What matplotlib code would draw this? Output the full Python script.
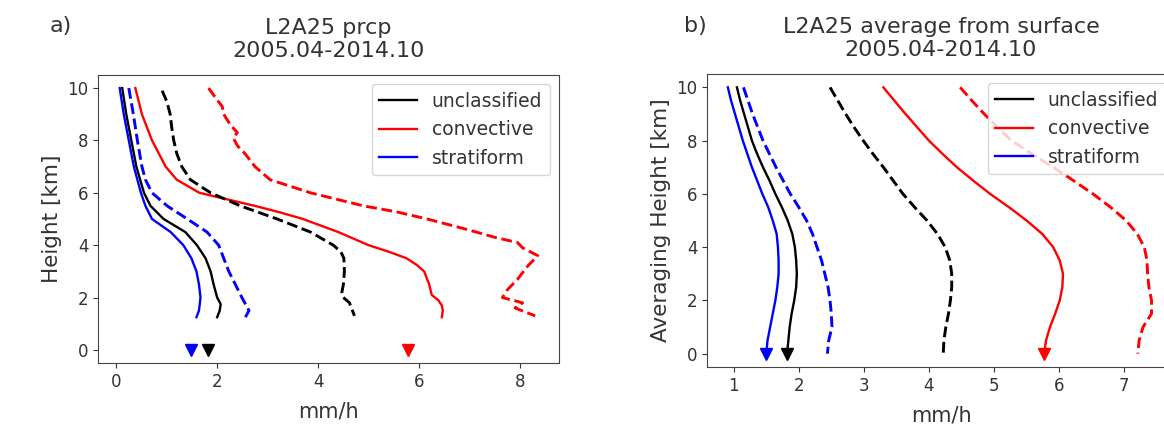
import numpy as np
from matplotlib import pyplot as plt

# ---- panel a: L2A25 precipitation profiles ----
h_strat_a = [10, 9, 8, 7, 6, 5.5, 5, 4.5, 4, 3.5, 3, 2.5, 2, 1.5, 1.25]
strat_a = [0.07, 0.15, 0.25, 0.35, 0.49, 0.58, 0.71, 1.08, 1.33, 1.49, 1.59, 1.64, 1.67, 1.64, 1.59]
h_uncl_a = [10, 9, 8, 7, 6, 5.5, 5, 4.5, 4, 3.5, 3, 2.5, 2, 1.75, 1.5, 1.25]
uncl_a = [0.12, 0.20, 0.30, 0.40, 0.55, 0.68, 0.94, 1.37, 1.60, 1.77, 1.87, 1.93, 2.0, 2.07, 2.05, 2.0]
h_strat_d_a = [10, 9, 8, 7, 6.5, 6, 5.5, 5, 4.5, 4, 3.5, 3, 2.5, 2, 1.5, 1.25]
strat_d_a = [0.25, 0.34, 0.42, 0.51, 0.58, 0.71, 1.01, 1.41, 1.80, 2.03, 2.13, 2.23, 2.36, 2.49, 2.63, 2.56]
h_conv_a = [10, 9, 8, 7, 6.5, 6, 5.75, 5.5, 5.25, 5, 4.75, 4.5, 4.25, 4, 3.75, 3.5,
            3.25, 3, 2.5, 2.1, 1.9, 1.7, 1.5, 1.25]
conv_a = [0.38, 0.51, 0.71, 0.98, 1.2, 1.65, 2.2, 2.75, 3.25, 3.7, 4.05, 4.4, 4.7, 5.0, 5.4, 5.75,
          5.95, 6.1, 6.2, 6.25, 6.38, 6.45, 6.47, 6.45]
h_uncl_d_a = [9.9, 9.5, 9, 8.5, 8, 7.5, 7, 6.5, 6, 5.5, 5, 4.5, 4, 3.75, 3.5, 3, 2.5, 2.2, 2, 1.8, 1.5, 1.3]
uncl_d_a = [0.91, 1.0, 1.07, 1.1, 1.14, 1.2, 1.3, 1.47, 1.87, 2.46, 3.19, 3.85, 4.3, 4.45, 4.51,
            4.52, 4.5, 4.47, 4.5, 4.62, 4.68, 4.72]
h_conv_d_a = [10, 9.6, 9.3, 9.0, 8.6, 8.3, 8.1, 7.8, 7.5, 7, 6.5, 6, 5.5, 5.27, 5, 4.6, 4.3, 4.1,
              3.9, 3.6, 3.2, 2.7, 2.3, 2.0, 1.8, 1.6, 1.3]
conv_d_a = [1.83, 1.98, 2.1, 2.13, 2.26, 2.4, 2.32, 2.4, 2.55, 2.75, 3.05, 3.85, 4.9, 5.56, 6.16, 6.95,
            7.5, 7.95, 8.05, 8.35, 8.15, 7.95, 7.75, 7.65, 8.05, 7.9, 8.3]
surface_a = {"b": 1.49, "k": 1.82, "r": 5.78}

# ---- panel b: average from surface ----
h_b = [10, 9.5, 9, 8.5, 8, 7.5, 7, 6.5, 6, 5.5, 5, 4.5, 4, 3.5, 3, 2.5, 2, 1.5, 1, 0.5, 0]
strat_b = [0.91, 0.96, 1.02, 1.08, 1.14, 1.21, 1.28, 1.36, 1.44, 1.53, 1.60, 1.66, 1.68, 1.69,
           1.69, 1.67, 1.64, 1.60, 1.56, 1.52, 1.50]
uncl_b = [1.05, 1.10, 1.16, 1.22, 1.28, 1.36, 1.45, 1.55, 1.64, 1.74, 1.83, 1.90, 1.94, 1.96,
          1.97, 1.96, 1.93, 1.89, 1.86, 1.84, 1.82]
strat_d_b = [1.15, 1.22, 1.29, 1.37, 1.45, 1.55, 1.65, 1.76, 1.87, 2.0, 2.12, 2.21, 2.28, 2.35,
             2.40, 2.45, 2.48, 2.50, 2.51, 2.46, 2.44]
uncl_d_b = [2.48, 2.6, 2.72, 2.85, 2.99, 3.14, 3.3, 3.45, 3.6, 3.78, 3.97, 4.13, 4.25, 4.32,
            4.35, 4.35, 4.33, 4.3, 4.26, 4.23, 4.22]
conv_b = [3.30, 3.47, 3.64, 3.82, 4.0, 4.21, 4.43, 4.68, 4.94, 5.23, 5.50, 5.74, 5.91, 6.01,
          6.06, 6.05, 6.01, 5.94, 5.86, 5.80, 5.77]
conv_d_b = [4.48, 4.66, 4.85, 5.05, 5.27, 5.58, 5.91, 6.22, 6.52, 6.79, 7.03, 7.2, 7.31, 7.35,
            7.36, 7.38, 7.42, 7.42, 7.29, 7.23, 7.21]

labels = ["unclassified", "convective", "stratiform"]
txt = "#333333"
plt.rcParams["text.color"] = txt
plt.rcParams["axes.labelcolor"] = txt
plt.rcParams["xtick.color"] = txt
plt.rcParams["ytick.color"] = txt
plt.rcParams["axes.edgecolor"] = "#444444"

fig = plt.figure(figsize=(11.64, 4.34), dpi=100)
ax1 = fig.add_axes([0.0842, 0.1636, 0.396, 0.6636])
ax2 = fig.add_axes([0.6074, 0.1544, 0.402, 0.675])

lw_s, lw_d = 1.7, 2.1
ax1.plot(uncl_a, h_uncl_a, color="k", lw=lw_s, label=labels[0])
ax1.plot(conv_a, h_conv_a, color="r", lw=lw_s, label=labels[1])
ax1.plot(strat_a, h_strat_a, color="b", lw=lw_s, label=labels[2])
ax1.plot(uncl_d_a, h_uncl_d_a, color="k", lw=lw_d, ls="--")
ax1.plot(conv_d_a, h_conv_d_a, color="r", lw=lw_d, ls="--")
ax1.plot(strat_d_a, h_strat_d_a, color="b", lw=lw_d, ls="--")
for c, v in surface_a.items():
    ax1.plot([v], [0], marker="v", color=c, ms=9, ls="none")

ax2.plot(uncl_b, h_b, color="k", lw=lw_s, label=labels[0])
ax2.plot(conv_b, h_b, color="r", lw=lw_s, label=labels[1])
ax2.plot(strat_b, h_b, color="b", lw=lw_s, label=labels[2])
ax2.plot(uncl_d_b, h_b, color="k", lw=lw_d, ls="--")
ax2.plot(conv_d_b, h_b, color="r", lw=lw_d, ls="--")
ax2.plot(strat_d_b, h_b, color="b", lw=lw_d, ls="--")
for c, s in [("k", uncl_b), ("r", conv_b), ("b", strat_b)]:
    ax2.plot([s[-1]], [h_b[-1]], marker="v", color=c, ms=9, ls="none")

ax1.set_xlim(-0.36, 8.77)
ax2.set_xlim(0.59, 7.78)
for ax in (ax1, ax2):
    ax.set_ylim(-0.5, 10.5)
    ax.set_yticks([0, 2, 4, 6, 8, 10])
    ax.tick_params(labelsize=12)
    ax.set_xlabel("mm/h", fontsize=15, labelpad=8)
    ax.legend(loc="upper right", fontsize=13.5, handlelength=2.0)
ax1.set_xticks([0, 2, 4, 6, 8])
ax2.set_xticks([1, 2, 3, 4, 5, 6, 7])

ax1.set_ylabel("Height [km]", fontsize=15.5)
ax2.set_ylabel("Averaging Height [km]", fontsize=15.5)
ax1.set_title("L2A25 prcp\n2005.04-2014.10", fontsize=16, pad=13)
ax2.set_title("L2A25 average from surface\n2005.04-2014.10", fontsize=16, pad=13)
fig.text(0.043, 0.94, "a)", fontsize=16, va="center")
fig.text(0.588, 0.94, "b)", fontsize=16, va="center")

plt.savefig("out.png", dpi=100)
